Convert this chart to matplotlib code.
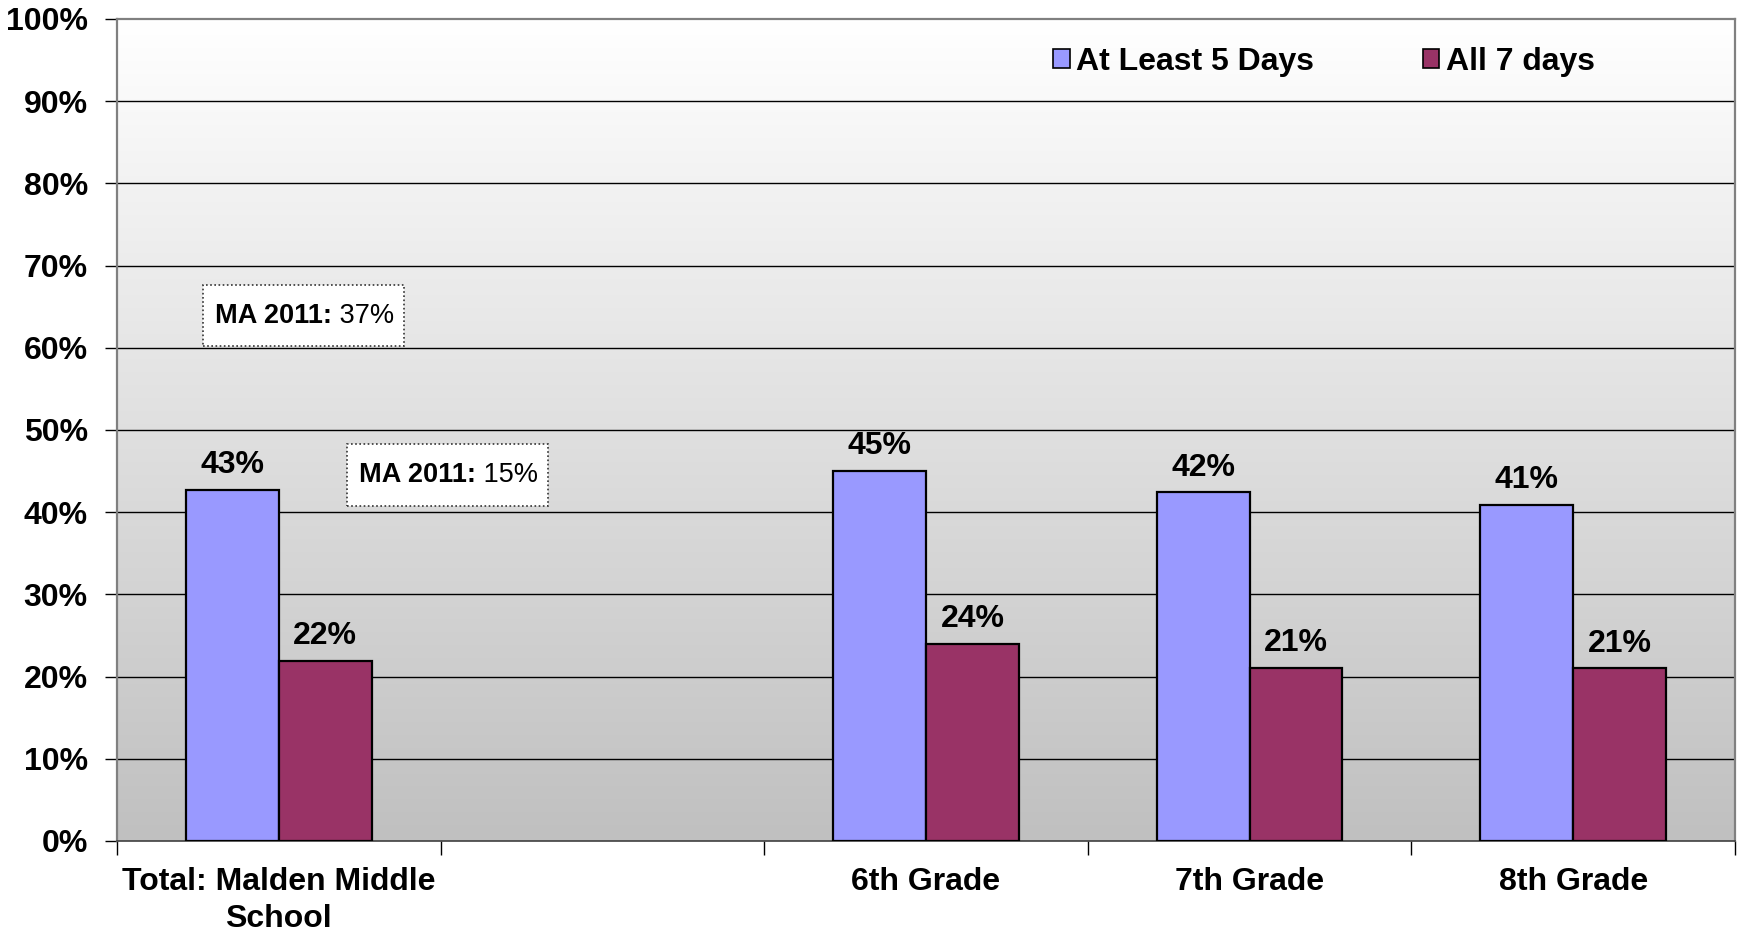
import matplotlib
matplotlib.use("Agg")
import matplotlib.pyplot as plt
from matplotlib.patches import Patch, Rectangle
import numpy as np

plt.rcParams['font.family'] = ['Liberation Sans', 'DejaVu Sans']

categories = ['Total: Malden Middle\nSchool', '', '6th Grade', '7th Grade', '8th Grade']
series_names = ['At Least 5 Days', 'All 7 days']
at_least_5 = [42.7, None, 45.0, 42.4, 40.9]
all_7 = [21.9, None, 24.0, 21.1, 21.0]
colors = ['#9999ff', '#993366']
ma_2011 = [37, 15]
y_ticks = [0, 10, 20, 30, 40, 50, 60, 70, 80, 90, 100]

W, H = 1738, 931
FS = 23
fig = plt.figure(figsize=(W / 100, H / 100), dpi=100)
ax = fig.add_axes([117 / W, 1 - 841 / H, (1735 - 117) / W, (841 - 19) / H])

n = len(categories)
ax.set_xlim(0, n)
ax.set_ylim(0, 100)

# gradient background
grad = np.linspace(0, 1, 256).reshape(-1, 1)
ax.imshow(grad, extent=[0, n, 0, 100], aspect='auto', origin='upper',
          cmap=matplotlib.colors.LinearSegmentedColormap.from_list('g', ['#ffffff', '#c0c0c0']),
          zorder=0)

bw = 0.287
centers = np.arange(n) + 0.5
for vals, col, off in [(at_least_5, colors[0], -bw / 2), (all_7, colors[1], bw / 2)]:
    for c, v in zip(centers, vals):
        if v is None:
            continue
        ax.bar(c + off, v, width=bw, color=col, edgecolor='black', linewidth=1.6, zorder=3)
        ax.annotate(f"{v:.0f}%", (c + off, v), xytext=(0, 7), textcoords='offset points',
                    ha='center', va='bottom', fontsize=FS, fontweight='bold', zorder=4)

# grid
ax.set_yticks(y_ticks)
ax.set_yticklabels([f"{t}%" for t in y_ticks], fontsize=FS, fontweight='bold')
for t in y_ticks[1:-1]:
    ax.axhline(t, color='black', linewidth=1.0, zorder=1)
ax.tick_params(axis='y', length=9, width=1, pad=12, direction='out')

ax.set_xticks(centers)
ax.set_xticklabels(categories, fontsize=FS, fontweight='bold', linespacing=1.3)
ax.set_xticks(np.arange(n + 1), minor=True)
ax.tick_params(axis='x', which='major', length=0, pad=19)
ax.tick_params(axis='x', which='minor', length=10, width=1, direction='out')

for s in ['left', 'top', 'right']:
    ax.spines[s].set_color('#808080')
    ax.spines[s].set_linewidth(1.6)
ax.spines['bottom'].set_color('#404040')
ax.spines['bottom'].set_linewidth(1.2)

# MA 2011 boxes
boxes = [(0.266, 60.2, 0.621, 7.4), (0.711, 40.8, 0.621, 7.5)]
for (bx, by, bwid, bh), val in zip(boxes, ma_2011):
    ax.add_patch(Rectangle((bx, by), bwid, bh, facecolor='white', edgecolor='#333333',
                           linestyle=(0, (1, 1.5)), linewidth=1.2, zorder=5))
    t1 = ax.text(bx + 0.037, by + bh / 2, 'MA 2011:', fontsize=19.5, fontweight='bold',
                 va='center', ha='left', zorder=6)
    ax.annotate(f' {val}%', xy=(1, 0.5), xycoords=t1, va='center', ha='left',
                fontsize=19.5, zorder=6)

handles = [Patch(facecolor=c, edgecolor='black', linewidth=1.2) for c in colors]
fig.legend(handles, series_names, loc='center left', bbox_to_anchor=(1053 / W, 1 - 62 / H),
           ncol=2, frameon=False, prop={'size': FS, 'weight': 'bold'},
           handlelength=0.52, handleheight=0.52, handletextpad=0.2,
           columnspacing=3.4, borderpad=0, borderaxespad=0)

fig.savefig('out.png', dpi=100)
